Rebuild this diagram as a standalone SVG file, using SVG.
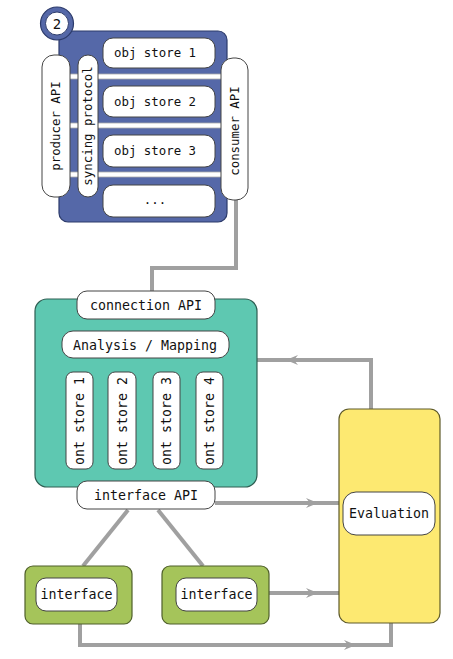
<svg xmlns="http://www.w3.org/2000/svg" width="453" height="659" viewBox="0 0 453 659">
<defs>
<style>
.w{fill:#fff;stroke:#444;stroke-width:1}
.t{font-family:"DejaVu Sans Mono",monospace;fill:#111}
.s{font-size:12.4px}
.m{font-size:13.3px}
.c{fill:none;stroke:#a0a0a0;stroke-width:4}
.bar{fill:#fff;stroke:#aaa;stroke-width:0.8}
</style>
</defs>
<rect width="453" height="659" fill="#fff"/>

<g id="connectors">
<polyline class="c" points="236,200 236,268 152,268 152,292"/>
<path class="c" d="M371,409 V360 H257"/>
<line class="c" x1="215" y1="503" x2="339" y2="503"/>
<line class="c" x1="269" y1="593" x2="339" y2="593"/>
<polyline class="c" points="80,624 80,645 391,645 391,623"/>
<line class="c" x1="128" y1="510" x2="83" y2="566"/>
<line class="c" x1="158" y1="510" x2="203" y2="566"/>
<line class="c" x1="79" y1="358" x2="79" y2="372" stroke-width="3"/>
<line class="c" x1="123" y1="358" x2="123" y2="372" stroke-width="3"/>
<line class="c" x1="167" y1="358" x2="167" y2="372" stroke-width="3"/>
<line class="c" x1="209" y1="358" x2="209" y2="372" stroke-width="3"/>
<path d="M298,355 L286,360 L298,365 L294,360 Z" fill="#a0a0a0"/>
<path d="M306,498 L318,503 L306,508 L310,503 Z" fill="#a0a0a0"/>
<path d="M306,588 L318,593 L306,598 L310,593 Z" fill="#a0a0a0"/>
<path d="M344,640 L356,645 L344,650 L348,645 Z" fill="#a0a0a0"/>
</g>

<g id="objstore-system">
<rect x="59" y="31" width="168" height="191" rx="9" fill="#5568a8" stroke="#2c3b6b" stroke-width="1.2"/>
<circle cx="57" cy="23.5" r="16.5" fill="#5568a8" stroke="#2c3b6b" stroke-width="1.2"/>
<circle cx="57" cy="23.5" r="11.5" fill="#fff" stroke="#2c3b6b" stroke-width="1"/>
<text class="t" font-size="14" x="57" y="28.5" text-anchor="middle">2</text>
<rect class="bar" x="68" y="74" width="156" height="5"/>
<rect class="bar" x="68" y="123" width="156" height="5"/>
<rect class="bar" x="68" y="172" width="156" height="5"/>
</g>
<g id="obj-store-1"><rect class="w" x="103" y="38" width="112" height="30" rx="10"/><text class="t s" x="155" y="57" text-anchor="middle">obj store 1</text></g>
<g id="obj-store-2"><rect class="w" x="103" y="86" width="112" height="31" rx="10"/><text class="t s" x="155" y="106" text-anchor="middle">obj store 2</text></g>
<g id="obj-store-3"><rect class="w" x="103" y="135" width="112" height="32" rx="10"/><text class="t s" x="155" y="155" text-anchor="middle">obj store 3</text></g>
<g id="obj-store-more"><rect class="w" x="103" y="185" width="112" height="32" rx="10"/><text class="t s" x="155" y="204" text-anchor="middle">...</text></g>
<g id="producer-api"><rect class="w" x="42" y="55" width="28" height="142" rx="12"/><text class="t s" transform="translate(60,126) rotate(-90)" text-anchor="middle">producer API</text></g>
<g id="syncing-protocol"><rect class="w" x="78" y="55" width="20" height="142" rx="10"/><text class="t s" transform="translate(92,126) rotate(-90)" text-anchor="middle">syncing protocol</text></g>
<g id="consumer-api"><rect class="w" x="221" y="58" width="27" height="142" rx="12"/><text class="t s" transform="translate(239,131) rotate(-90)" text-anchor="middle">consumer API</text></g>

<g id="ontology-system">
<rect x="35" y="299" width="222" height="188" rx="12" fill="#5ec8b1" stroke="#2e5e52" stroke-width="1.2"/>
</g>
<g id="connection-api"><rect class="w" x="77" y="291" width="138" height="28" rx="10"/><text class="t m" x="146" y="310" text-anchor="middle">connection API</text></g>
<g id="analysis-mapping"><rect class="w" x="62" y="331" width="167" height="27" rx="11"/><text class="t m" x="145" y="350" text-anchor="middle">Analysis / Mapping</text></g>
<g id="ont-store-1"><rect class="w" x="66" y="372" width="27" height="97" rx="7"/><text class="t m" transform="translate(84,421) rotate(-90)" text-anchor="middle">ont store 1</text></g>
<g id="ont-store-2"><rect class="w" x="108" y="372" width="28" height="97" rx="7"/><text class="t m" transform="translate(127,421) rotate(-90)" text-anchor="middle">ont store 2</text></g>
<g id="ont-store-3"><rect class="w" x="153" y="372" width="27" height="97" rx="7"/><text class="t m" transform="translate(171,421) rotate(-90)" text-anchor="middle">ont store 3</text></g>
<g id="ont-store-4"><rect class="w" x="196" y="372" width="27" height="97" rx="7"/><text class="t m" transform="translate(214,421) rotate(-90)" text-anchor="middle">ont store 4</text></g>
<g id="interface-api"><rect class="w" x="77" y="481" width="138" height="28" rx="10"/><text class="t m" x="146" y="500" text-anchor="middle">interface API</text></g>

<g id="interface-1"><rect x="25" y="566" width="107" height="58" rx="8" fill="#a5c45a" stroke="#4f5f2a" stroke-width="1.2"/><rect class="w" x="36" y="578" width="81" height="33" rx="10"/><text class="t m" x="76.5" y="599" text-anchor="middle">interface</text></g>
<g id="interface-2"><rect x="162" y="566" width="107" height="58" rx="8" fill="#a5c45a" stroke="#4f5f2a" stroke-width="1.2"/><rect class="w" x="176" y="578" width="81" height="33" rx="10"/><text class="t m" x="216.5" y="599" text-anchor="middle">interface</text></g>

<g id="evaluation"><rect x="339" y="409" width="101" height="214" rx="10" fill="#fde971" stroke="#5e5a2a" stroke-width="1.2"/><rect class="w" x="343" y="492" width="92" height="43" rx="13"/><text class="t m" x="389" y="518" text-anchor="middle">Evaluation</text></g>
</svg>
